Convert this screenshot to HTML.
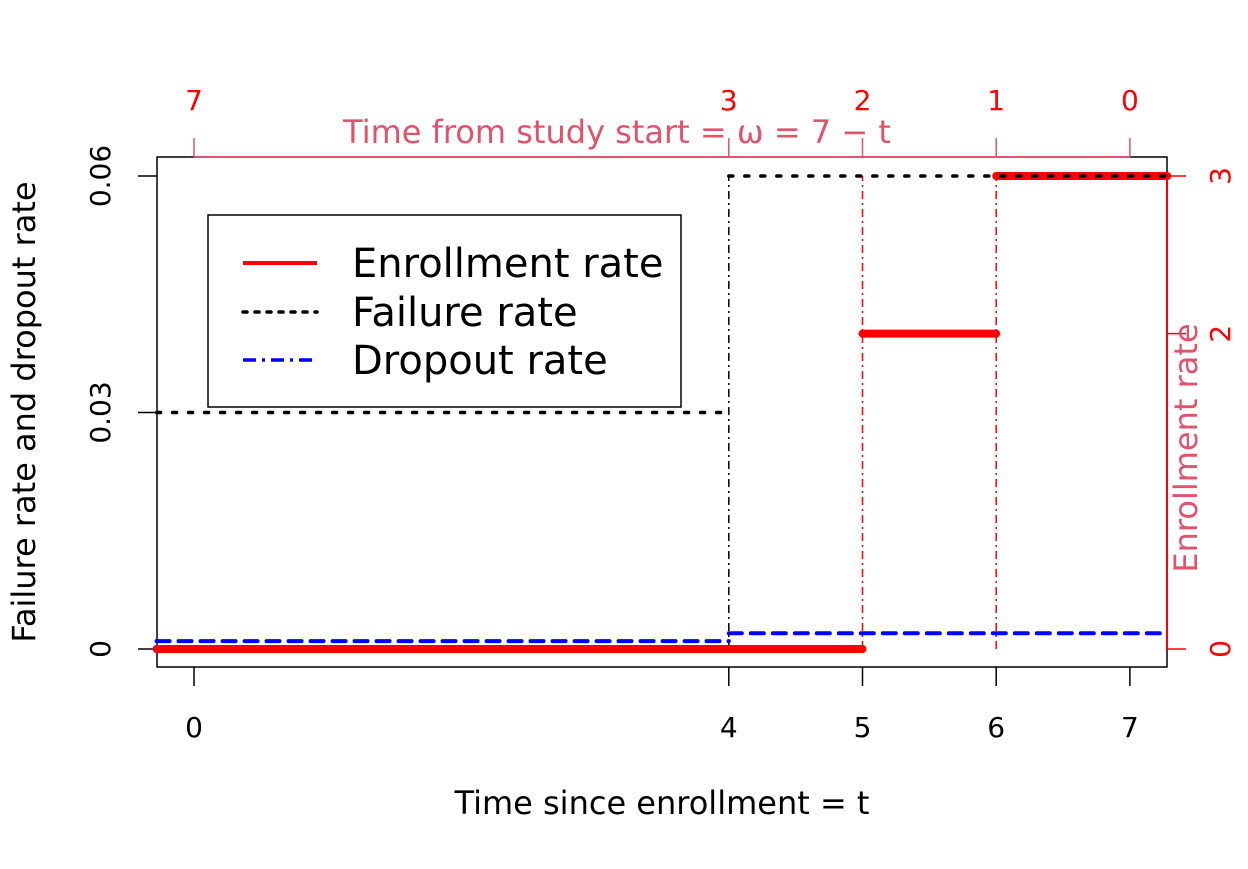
<!DOCTYPE html>
<html><head><meta charset="utf-8"><style>
html,body{margin:0;padding:0;background:#fff}
svg text{font-family:"DejaVu Sans","Liberation Sans",sans-serif}
</style></head><body>
<svg id="chart" width="1248" height="864" xmlns="http://www.w3.org/2000/svg"></svg>
<script>
const xTicks=[0,4,5,6,7];
const yTicks=[0,0.03,0.06];
const yTickLabels=["0","0.03","0.06"];
const rTicks=[0,2,3];
const enrollStarts=[-0.28,5,6];
const enrollEnds=[5,6,7.28];
const enrollRates=[0,2,3];
const failStarts=[-0.28,4];
const failEnds=[4,7.28];
const failRates=[0.03,0.06];
const dropStarts=[-0.28,4];
const dropEnds=[4,7.28];
const dropRates=[0.001,0.002];
const topLabels=["7","3","2","1","0"];

const NS="http://www.w3.org/2000/svg";
const svg=document.getElementById('chart');
const X=v=>194+v*133.7;
const Y=v=>649-v*(473/0.06);
const YR=v=>649-v*(473/3);
function el(t,a,txt){const e=document.createElementNS(NS,t);for(const k in a)e.setAttribute(k,a[k]);if(txt!==undefined)e.textContent=txt;svg.appendChild(e);return e;}
const PINK="#DF536B";

let b=el('path',{d:'M1130,157 L1167,157 L1167,667 L157,667 L157,157 L194,157',fill:'none',stroke:'#000','stroke-width':1.5});


xTicks.forEach(t=>{
  let l=el('line',{x1:X(t),x2:X(t),y1:667,y2:686,stroke:'#000','stroke-width':1.5});
  
  
  let tx=el('text',{x:X(t),y:737,'font-size':28,'text-anchor':'middle'},String(t));
  
  
});
let xt=el('text',{x:662,y:814,'font-size':32,'text-anchor':'middle'},'Time since enrollment = t');


yTicks.forEach((t,i)=>{
  let l=el('line',{x1:138,x2:157,y1:Y(t),y2:Y(t),stroke:'#000','stroke-width':1.5});
  
  
  let tx=el('text',{x:0,y:0,'font-size':28,'text-anchor':'middle',transform:`translate(110,${Y(t)}) rotate(-90)`},yTickLabels[i]);
  
  
});
let yt=el('text',{x:0,y:0,'font-size':32,'text-anchor':'middle',transform:'translate(35,412) rotate(-90)'},'Failure rate and dropout rate');


let ta=el('line',{x1:X(0),x2:X(7),y1:157,y2:157,stroke:PINK,'stroke-width':2});


xTicks.forEach((t,i)=>{
  let l=el('line',{x1:X(t),x2:X(t),y1:138,y2:157,stroke:PINK,'stroke-width':1.5});
  
  
  let tx=el('text',{x:X(t),y:110,'font-size':28,'text-anchor':'middle',fill:'#f00'},topLabels[i]);
  
  
});
let tt=el('text',{x:617,y:143,'font-size':32,'text-anchor':'middle',fill:PINK},'Time from study start =  ω = 7 − t');


let ra=el('line',{x1:1167,x2:1167,y1:YR(0),y2:YR(3),stroke:'#f00','stroke-width':2});


rTicks.forEach(t=>{
  let l=el('line',{x1:1167,x2:1186,y1:YR(t),y2:YR(t),stroke:'#f00','stroke-width':1.5});
  
  
  let tx=el('text',{x:0,y:0,'font-size':28,'text-anchor':'middle',fill:'#f00',transform:`translate(1230,${YR(t)}) rotate(-90)`},String(t));
  
  
});
let rt=el('text',{x:0,y:0,'font-size':32,'text-anchor':'middle',fill:PINK,transform:'translate(1197,448) rotate(-90)'},'Enrollment rate');


let v4=el('line',{x1:X(4),x2:X(4),y1:Y(0),y2:Y(0.06),stroke:'#000','stroke-width':1.5,'stroke-dasharray':'8 4 2 4'});


[5,6].forEach(t=>{
  let v=el('line',{x1:X(t),x2:X(t),y1:YR(0),y2:YR(3),stroke:'#f00','stroke-width':1.5,'stroke-dasharray':'8 4 2 4'});
  
  
});
dropRates.forEach((r,i)=>{
  let l=el('line',{x1:X(dropStarts[i]),x2:X(dropEnds[i]),y1:Y(r),y2:Y(r),stroke:'#00f','stroke-width':4,'stroke-dasharray':'13 9','stroke-linecap':'round'});
  
  
});
enrollRates.forEach((r,i)=>{
  let l=el('line',{x1:X(enrollStarts[i]),x2:X(enrollEnds[i]),y1:YR(r),y2:YR(r),stroke:'#f00','stroke-width':8,'stroke-linecap':'round'});
  
  
});
failRates.forEach((r,i)=>{
  let l=el('line',{x1:X(failStarts[i]),x2:X(failEnds[i]),y1:Y(r),y2:Y(r),stroke:'#000','stroke-width':3.5,'stroke-dasharray':'4 12','stroke-linecap':'round'});
  
  
});
</script>
<svg style="position:absolute;left:0;top:0" width="1248" height="864" xmlns="http://www.w3.org/2000/svg">
<rect x="208" y="215" width="473" height="192" fill="#fff" stroke="#000" stroke-width="1.5"/>
<line x1="243" x2="317" y1="263" y2="263" stroke="#f00" stroke-width="4"/>
<text x="352" y="277" font-size="40" font-family="DejaVu Sans, Liberation Sans, sans-serif">Enrollment rate</text>
<line x1="243" x2="317" y1="312" y2="312" stroke="#000" stroke-width="3.5" stroke-dasharray="4 8" stroke-linecap="round"/>
<text x="352" y="326" font-size="40" font-family="DejaVu Sans, Liberation Sans, sans-serif">Failure rate</text>
<line x1="243" x2="317" y1="360" y2="360" stroke="#00f" stroke-width="3.5" stroke-dasharray="13 6 3 6"/>
<text x="352" y="374" font-size="40" font-family="DejaVu Sans, Liberation Sans, sans-serif">Dropout rate</text>
</svg>
</body></html>
